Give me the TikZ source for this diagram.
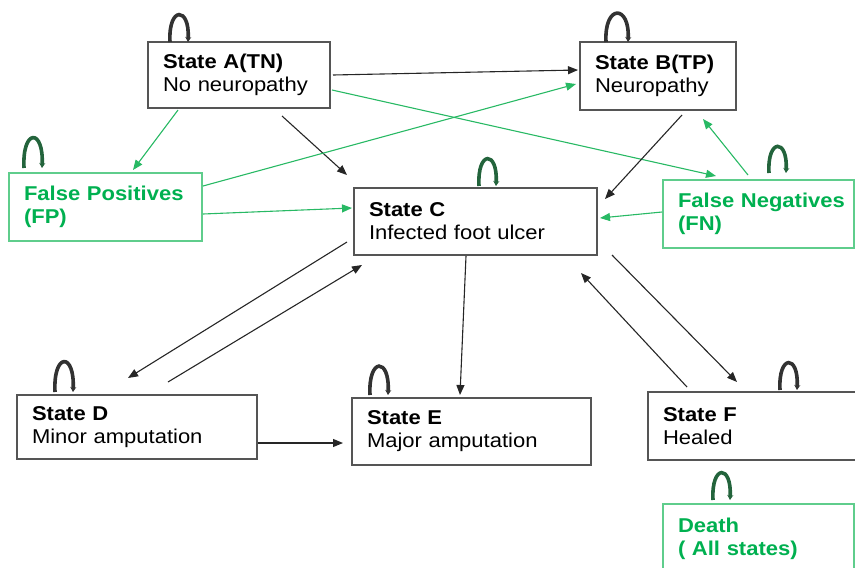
\documentclass[tikz,border=0pt]{standalone}
\usepackage{fontspec}
\setmainfont{Liberation Sans}[FakeStretch=1.1]
\usetikzlibrary{arrows.meta,calc}
\definecolor{gtext}{RGB}{0,176,80}
\definecolor{gline}{RGB}{40,185,100}
\definecolor{gbox}{RGB}{95,205,140}
\definecolor{bbox}{RGB}{85,85,85}
\definecolor{loopk}{RGB}{50,50,50}
\definecolor{loopg}{RGB}{35,100,60}
\begin{document}
\begin{tikzpicture}[x=1pt,y=-1pt,
  stbox/.style={draw=bbox, line width=1.3pt, anchor=north west, align=left,
    inner xsep=15pt, inner ysep=0pt, outer sep=0pt, font=\fontsize{20}{23}\selectfont},
  grbox/.style={stbox, draw=gbox, text=gtext, font=\fontsize{20}{23}\selectfont\bfseries},
  karrow/.style={draw=black!85, line width=1.1pt, -{Triangle[length=10pt,width=8pt]}},
  garrow/.style={draw=gline, line width=1.1pt, -{Triangle[length=10pt,width=8pt]}},
  selfloop/.style={line width=3.6pt, draw=loopk, -{Stealth[length=5pt,width=6pt]}},
  gselfloop/.style={selfloop, draw=loopg}
]
\useasboundingbox (0,0) rectangle (855,568);

% states
\node[stbox, text width=152pt, minimum height=66pt] (A) at (148,42) {\textbf{State A(TN)}\\No neuropathy};
\node[stbox, text width=126pt, minimum height=68pt] (B) at (580,42) {\textbf{State B(TP)}\\Neuropathy};
\node[grbox, text width=163pt, minimum height=68pt] (FP) at (9,173) {\mbox{False Positives}\\(FP)};
\node[stbox, text width=213pt, minimum height=67pt] (C) at (354,188) {\textbf{State C}\\Infected foot ulcer};
\node[grbox, text width=161pt, minimum height=68pt] (FN) at (663,180) {\mbox{False Negatives}\\(FN)};
\node[stbox, text width=210pt, minimum height=64pt] (D) at (17,395) {\textbf{State D}\\Minor amputation};
\node[stbox, text width=209pt, minimum height=67pt] (E) at (352,398) {\textbf{State E}\\Major amputation};
\node[stbox, text width=185pt, minimum height=68pt] (F) at (648,392) {\textbf{State F}\\Healed};
\node[grbox, text width=161pt, minimum height=69pt] (G) at (663,504) {Death\\( All states)};

% transitions
\draw[karrow] ($(A.north west)+(185,33)$) -- ($(B.north west)+(-2,28)$);
\draw[karrow] ($(A.north west)+(134,74)$) -- ($(C.north west)+(-7,-13)$);
\draw[garrow] ($(A.north west)+(30,68)$) -- ($(FP.north west)+(124,-3)$);
\draw[garrow] ($(A.north west)+(184,48)$) -- ($(FN.north west)+(53,-4)$);
\draw[garrow] ($(FP.north west)+(194,13)$) -- ($(B.north west)+(-4,42)$);
\draw[garrow] ($(FP.north west)+(194,41)$) -- ($(C.north west)+(-2,20)$);
\draw[karrow] ($(B.north west)+(102,73)$) -- ($(C.north west)+(251,11)$);
\draw[garrow] ($(FN.north west)+(85,-5)$) -- ($(B.north west)+(123,77)$);
\draw[garrow] ($(FN.north west)+(-1,32)$) -- ($(C.north west)+(246,30)$);
\draw[karrow] ($(C.north west)+(-7,54)$) -- ($(D.north west)+(111,-17)$);
\draw[karrow] ($(D.north west)+(151,-13)$) -- ($(C.north west)+(8,77)$);
\draw[karrow] ($(C.north west)+(112,68)$) -- ($(E.north west)+(108,-3)$);
\draw[karrow] ($(D.north west)+(241,48)$) -- ($(E.north west)+(-9,45)$);
\draw[karrow] ($(C.north west)+(258,67)$) -- ($(F.north west)+(89,-10)$);
\draw[karrow] ($(F.north west)+(39,-5)$) -- ($(C.north west)+(227,85)$);

% self loops
\draw[selfloop]  ($(A.north west)+(22,0)$) .. controls +(-2,-36) and +(2,-36) .. ($(A.north west)+(40,0)$);
\draw[selfloop]  ($(B.north west)+(26,0)$) .. controls +(-2,-38) and +(2,-38) .. ($(B.north west)+(48,0)$);
\draw[gselfloop] ($(FP.north west)+(15,-5)$) .. controls +(-2,-40) and +(2,-40) .. ($(FP.north west)+(33,-5)$);
\draw[gselfloop] ($(C.north west)+(125,-2)$) .. controls +(-2,-36) and +(2,-36) .. ($(C.north west)+(142,-2)$);
\draw[gselfloop] ($(FN.north west)+(106,-7)$) .. controls +(-2,-35) and +(2,-35) .. ($(FN.north west)+(123,-7)$);
\draw[selfloop]  ($(D.north west)+(38,-3)$) .. controls +(-2,-40) and +(2,-40) .. ($(D.north west)+(56,-3)$);
\draw[selfloop]  ($(E.north west)+(18,-3)$) .. controls +(-2,-38) and +(2,-38) .. ($(E.north west)+(36,-3)$);
\draw[selfloop]  ($(F.north west)+(132,-2)$) .. controls +(-2,-36) and +(2,-36) .. ($(F.north west)+(149,-2)$);
\draw[gselfloop] ($(G.north west)+(50,-4)$) .. controls +(-2,-36) and +(2,-36) .. ($(G.north west)+(67,-4)$);
\end{tikzpicture}
\end{document}
